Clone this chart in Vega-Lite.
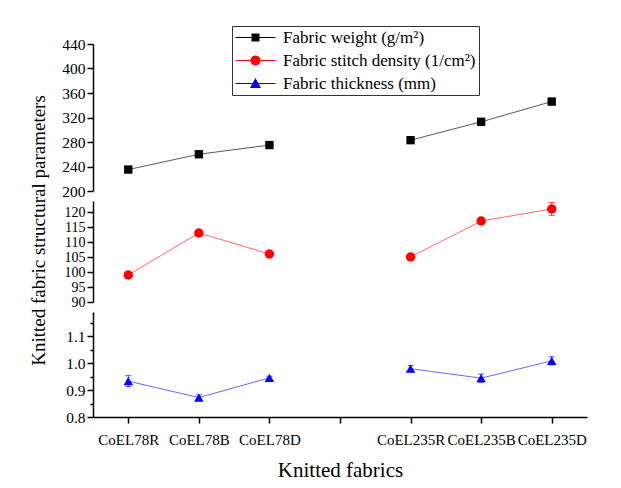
{
  "$schema": "https://vega.github.io/schema/vega-lite/v6.json",
  "padding": {"left": 28, "top": 25, "right": 10, "bottom": 5},
  "bounds": "flush",
  "background": "white",
  "data": {
    "values": [
      {"fabric": "CoEL78R", "group": "78", "series": "Fabric weight (g/m²)", "value": 235, "err": 1},
      {"fabric": "CoEL78B", "group": "78", "series": "Fabric weight (g/m²)", "value": 260, "err": 1},
      {"fabric": "CoEL78D", "group": "78", "series": "Fabric weight (g/m²)", "value": 275, "err": 1},
      {"fabric": "CoEL235R", "group": "235", "series": "Fabric weight (g/m²)", "value": 283, "err": 1},
      {"fabric": "CoEL235B", "group": "235", "series": "Fabric weight (g/m²)", "value": 313, "err": 1},
      {"fabric": "CoEL235D", "group": "235", "series": "Fabric weight (g/m²)", "value": 346, "err": 1},
      {"fabric": "CoEL78R", "group": "78", "series": "Fabric stitch density (1/cm²)", "value": 99, "err": 0.4},
      {"fabric": "CoEL78B", "group": "78", "series": "Fabric stitch density (1/cm²)", "value": 113, "err": 0.4},
      {"fabric": "CoEL78D", "group": "78", "series": "Fabric stitch density (1/cm²)", "value": 106, "err": 0.4},
      {"fabric": "CoEL235R", "group": "235", "series": "Fabric stitch density (1/cm²)", "value": 105, "err": 0.4},
      {"fabric": "CoEL235B", "group": "235", "series": "Fabric stitch density (1/cm²)", "value": 117, "err": 0.5},
      {"fabric": "CoEL235D", "group": "235", "series": "Fabric stitch density (1/cm²)", "value": 121, "err": 2.2},
      {"fabric": "CoEL78R", "group": "78", "series": "Fabric thickness (mm)", "value": 0.933, "err": 0.02},
      {"fabric": "CoEL78B", "group": "78", "series": "Fabric thickness (mm)", "value": 0.872, "err": 0.01},
      {"fabric": "CoEL78D", "group": "78", "series": "Fabric thickness (mm)", "value": 0.945, "err": 0.006},
      {"fabric": "CoEL235R", "group": "235", "series": "Fabric thickness (mm)", "value": 0.979, "err": 0.012},
      {"fabric": "CoEL235B", "group": "235", "series": "Fabric thickness (mm)", "value": 0.944, "err": 0.015},
      {"fabric": "CoEL235D", "group": "235", "series": "Fabric thickness (mm)", "value": 1.008, "err": 0.015}
    ]
  },
  "spacing": 10,
  "vconcat": [
    {
      "width": 494,
      "height": 147,
      "transform": [{"filter": "datum.series === 'Fabric weight (g/m²)'"}],
      "encoding": {
        "x": {"field": "fabric", "type": "nominal", "axis": null,
              "scale": {"type": "point", "padding": 0.5, "domain": ["CoEL78R", "CoEL78B", "CoEL78D", " ", "CoEL235R", "CoEL235B", "CoEL235D"]}},
        "y": {"field": "value", "type": "quantitative",
              "scale": {"domain": [200, 440], "zero": false, "nice": false},
              "axis": {"title": null, "values": [200, 240, 280, 320, 360, 400, 440]}},
        "color": {"field": "series", "type": "nominal",
                  "scale": {"domain": ["Fabric weight (g/m²)", "Fabric stitch density (1/cm²)", "Fabric thickness (mm)"], "range": ["#000000", "#ff0000", "#0000ff"]},
                  "legend": {
                    "title": null, "orient": "none", "legendX": 139, "legendY": -18,
                    "strokeColor": "#333333", "padding": 3, "rowPadding": 5,
                    "labelFont": "Liberation Serif", "labelFontSize": 17, "labelColor": "black", "labelLimit": 400,
                    "symbolSize": 100, "labelOffset": 31, "symbolStrokeWidth": 0, "symbolOpacity": 1,
                    "encode": {"symbols": {"update": {"shape": {"signal": "datum.value === 'Fabric weight (g/m²)' ? 'M-1.6,-0.1H6.4V0.1H-1.6Z M1.6,-0.8H3.2V0.8H1.6Z' : datum.value === 'Fabric thickness (mm)' ? 'M-1.6,-0.1H6.4V0.1H-1.6Z M2.4,-1.1L3.5,0.9L1.3,0.9Z' : 'M-1.6,-0.1H6.4V0.1H-1.6Z M1.4,0A1,1 0 1,1 3.4,0A1,1 0 1,1 1.4,0Z'"}}}}
                  }}
      },
      "layer": [
        {"mark": {"type": "line", "strokeWidth": 1, "opacity": 0.65}, "encoding": {"detail": {"field": "group"}}},
        {"mark": {"type": "point", "shape": "square", "filled": true, "size": 70, "opacity": 1}}
      ]
    },
    {
      "width": 494,
      "height": 101,
      "transform": [{"filter": "datum.series === 'Fabric stitch density (1/cm²)'"}],
      "encoding": {
        "x": {"field": "fabric", "type": "nominal", "axis": null,
              "scale": {"type": "point", "padding": 0.5, "domain": ["CoEL78R", "CoEL78B", "CoEL78D", " ", "CoEL235R", "CoEL235B", "CoEL235D"]}},
        "y": {"field": "value", "type": "quantitative",
              "scale": {"domain": [90, 123.67], "zero": false, "nice": false},
              "axis": {"title": "Knitted fabric structural parameters", "values": [90, 95, 100, 105, 110, 115, 120],
                       "labelOverlap": false, "labelFontSize": 14, "titleX": -55, "titleY": 29, "titleBaseline": "middle"}},
        "color": {"field": "series", "type": "nominal"}
      },
      "layer": [
        {"mark": {"type": "line", "strokeWidth": 1, "opacity": 0.6}, "encoding": {"detail": {"field": "group"}}},
        {"mark": {"type": "errorbar", "ticks": {"size": 6}, "opacity": 0.7}, "encoding": {"yError": {"field": "err"}}},
        {"mark": {"type": "point", "shape": "circle", "filled": true, "size": 90, "opacity": 1}}
      ]
    },
    {
      "width": 494,
      "height": 105,
      "transform": [{"filter": "datum.series === 'Fabric thickness (mm)'"}],
      "encoding": {
        "x": {"field": "fabric", "type": "nominal",
              "scale": {"type": "point", "padding": 0.5, "domain": ["CoEL78R", "CoEL78B", "CoEL78D", " ", "CoEL235R", "CoEL235B", "CoEL235D"]},
              "axis": {"title": "Knitted fabrics", "labelAngle": 0, "labelFontSize": 15, "labelPadding": 9, "labelOverlap": false, "titleFontSize": 21, "titlePadding": 12}},
        "y": {"field": "value", "type": "quantitative",
              "scale": {"domain": [0.8, 1.189], "zero": false, "nice": false},
              "axis": {"title": null, "values": [0.8, 0.85, 0.9, 0.95, 1.0, 1.05, 1.1, 1.15], "labelOverlap": false,
                       "labelExpr": "indexof([0.85, 0.95, 1.05, 1.15], datum.value) >= 0 ? '' : format(datum.value, '.1f')",
                       "tickSize": {"condition": {"test": "indexof([0.85, 0.95, 1.05, 1.15], datum.value) >= 0", "value": 3}, "value": 6}}},
        "color": {"field": "series", "type": "nominal"}
      },
      "layer": [
        {"mark": {"type": "line", "strokeWidth": 1, "opacity": 0.6}, "encoding": {"detail": {"field": "group"}}},
        {"mark": {"type": "errorbar", "ticks": {"size": 6}, "opacity": 0.7}, "encoding": {"yError": {"field": "err"}}},
        {"mark": {"type": "point", "shape": "triangle-up", "filled": true, "size": 90, "opacity": 1}}
      ]
    }
  ],
  "config": {
    "view": {"stroke": null},
    "font": "Liberation Serif",
    "axis": {
      "grid": false, "domainColor": "black", "domainWidth": 1.5, "tickColor": "black", "tickWidth": 1.5, "tickSize": 6,
      "labelFont": "Liberation Serif", "labelFontSize": 15.5, "labelColor": "black", "labelPadding": 2,
      "titleFont": "Liberation Serif", "titleFontSize": 19, "titleColor": "black", "titleFontWeight": "normal"
    }
  }
}
